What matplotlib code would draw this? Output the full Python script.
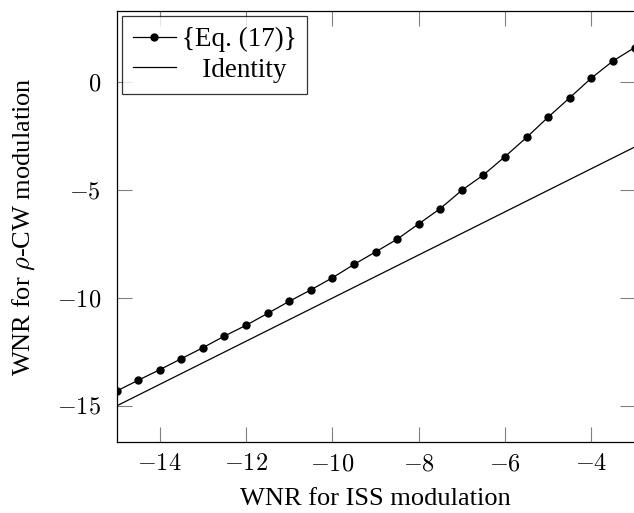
import numpy as np
import matplotlib
matplotlib.use('Agg')
import matplotlib.pyplot as plt
from matplotlib.ticker import FuncFormatter

plt.rcParams['font.family'] = ['Liberation Serif', 'DejaVu Serif']
plt.rcParams['mathtext.fontset'] = 'cm'

# WNR for ISS modulation (x) and WNR for rho-CW modulation
wnr_iss = [-15, -14.5, -14, -13.5, -13, -12.5, -12, -11.5, -11, -10.5, -10, -9.5,
           -9, -8.5, -8, -7.5, -7, -6.5, -6, -5.5, -5, -4.5, -4, -3.5, -3]
wnr_eq17 = [-14.31, -13.81, -13.32, -12.81, -12.30, -11.76, -11.26, -10.71, -10.15,
            -9.62, -9.06, -8.44, -7.86, -7.27, -6.56, -5.85, -5.00, -4.29, -3.44,
            -2.55, -1.61, -0.71, 0.20, 0.99, 1.61]
identity_x = [-15, -3]
identity_y = [-15, -3]

fig = plt.figure(figsize=(6.34, 5.13), dpi=100)
ax = fig.add_axes([116.5/634, 1-442/513, (634.5-116.5)/634, (442-11)/513])

ax.plot(wnr_iss, wnr_eq17, color='black', linewidth=0.9, marker='o', markersize=5,
        label='{Eq. (17)}')
# pgfplots centres legend text, so pad the shorter entry
ax.plot(identity_x, identity_y, color='black', linewidth=0.9, label='   Identity')

ax.set_xlim(-15, -3)
ax.set_ylim(-16.67, 3.31)
ax.set_xticks([-14, -12, -10, -8, -6, -4])
ax.set_yticks([-15, -10, -5, 0])
fmt = FuncFormatter(lambda v, p: '$%g$' % v)
ax.xaxis.set_major_formatter(fmt)
ax.yaxis.set_major_formatter(fmt)
ax.tick_params(direction='in', length=11, width=0.8, color='0.5', labelsize=17.5,
               top=True, right=True)
ax.tick_params(axis='y', pad=11)
ax.tick_params(axis='x', pad=9)
for s in ax.spines.values():
    s.set_linewidth(0.9)

ax.set_xlabel('WNR for ISS modulation', fontsize=19, labelpad=9)
ax.set_ylabel(r'WNR for $\rho$-CW modulation', fontsize=19, labelpad=14)

leg = ax.legend(loc='upper left', fontsize=19.5, frameon=True, fancybox=False,
                borderaxespad=0.2, handlelength=1.6, borderpad=0.4,
                labelspacing=0.2, handletextpad=0.2)
leg.get_frame().set_edgecolor('black')
leg.get_frame().set_linewidth(0.9)

fig.savefig('out.png', dpi=100)
